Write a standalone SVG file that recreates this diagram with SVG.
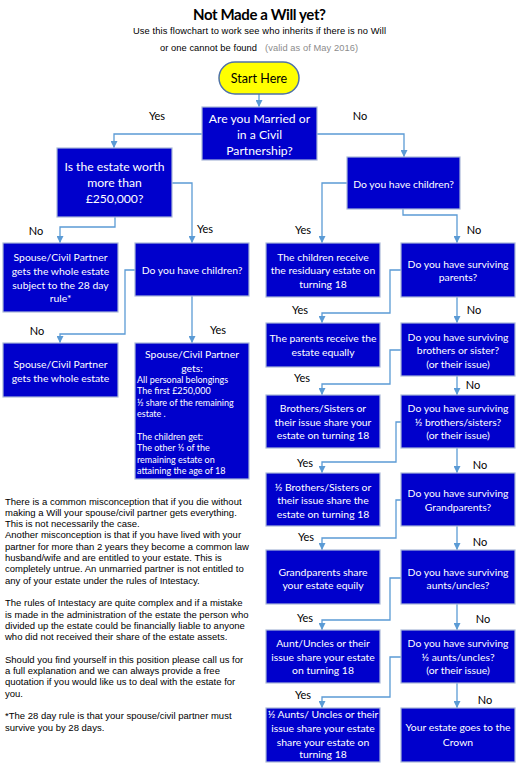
<svg xmlns="http://www.w3.org/2000/svg" width="520" height="768" viewBox="0 0 520 768">
<defs>
<style>
.bx{fill:#0000cc;stroke:#aab8d8;stroke-width:1.2}
.t{font-family:Lato,"Liberation Sans",sans-serif;fill:#fff;font-size:10.4px;text-anchor:middle}
.tb{font-size:12.2px}
.ts{font-family:Lato,"Liberation Sans",sans-serif;fill:#fff;font-size:9px}
.c{fill:none;stroke:#5b9bd5;stroke-width:1.3;marker-end:url(#ah)}
.lb{font-family:Lato,"Liberation Sans",sans-serif;font-size:11px;fill:#000;text-anchor:middle}
.body{font-family:"Liberation Sans",Arial,sans-serif;font-size:9.5px;fill:#000}
</style>
<marker id="ah" viewBox="0 0 10 10" refX="10" refY="5" markerWidth="7" markerHeight="7" orient="auto" markerUnits="userSpaceOnUse">
<path d="M0,0 L10,5 L0,10 z" fill="#5b9bd5"/>
</marker>
</defs>
<rect width="520" height="768" fill="#fff"/>
<g id="title">
<text x="259.5" y="20" font-family="Lato,'Liberation Sans',sans-serif" font-weight="bold" font-size="15" text-anchor="middle" textLength="133" fill="#000">Not Made a Will yet?</text>
<text x="259.5" y="33.5" class="body" text-anchor="middle" textLength="253" style="font-size:9.3px">Use this flowchart to work see who inherits if there is no Will</text>
<text x="160" y="50.5" class="body" textLength="97" style="font-size:9.3px">or one cannot be found</text>
<text x="265" y="50.5" class="body" textLength="93" style="font-size:9.3px;fill:#8c8c8c">(valid as of May 2016)</text>
</g>
<g id="connectors">
<path class="c" d="M259,94 V107"/>
<path class="c" d="M202,134 H114 V148"/>
<path class="c" d="M317,134 H404 V157"/>
<path class="c" d="M115,217 V227 H60 V243"/>
<path class="c" d="M172,183 H192 V243"/>
<path class="c" d="M135,270 H125 V334 H60 V343"/>
<path class="c" d="M192,296 V343"/>
<path class="c" d="M347,183 H322 V243"/>
<path class="c" d="M403,209 V215 H457 V243"/>
<path class="c" d="M401,270 H390 V313 H322 V323"/>
<path class="c" d="M457,297 V323"/>
<path class="c" d="M401,350 H390 V384 H322 V395"/>
<path class="c" d="M457,376 V395"/>
<path class="c" d="M401,422 H396 V462 H322 V473"/>
<path class="c" d="M457,448 V473"/>
<path class="c" d="M401,500 H396 V538 H322 V550"/>
<path class="c" d="M457,526 V550"/>
<path class="c" d="M401,578 H390 V620 H322 V630"/>
<path class="c" d="M457,604 V630"/>
<path class="c" d="M401,657 H390 V697 H322 V708"/>
<path class="c" d="M457,683 V708"/>
<text class="lb" x="157" y="120">Yes</text>
<text class="lb" x="360" y="120">No</text>
<text class="lb" x="36" y="235">No</text>
<text class="lb" x="205" y="233">Yes</text>
<text class="lb" x="37" y="335">No</text>
<text class="lb" x="218" y="334">Yes</text>
<text class="lb" x="303" y="234">Yes</text>
<text class="lb" x="474" y="234">No</text>
<text class="lb" x="300" y="314">Yes</text>
<text class="lb" x="474" y="314">No</text>
<text class="lb" x="302" y="382">Yes</text>
<text class="lb" x="473" y="389">No</text>
<text class="lb" x="305" y="467">Yes</text>
<text class="lb" x="480" y="469">No</text>
<text class="lb" x="306" y="541">Yes</text>
<text class="lb" x="480" y="546">No</text>
<text class="lb" x="305" y="622">Yes</text>
<text class="lb" x="483" y="623">No</text>
<text class="lb" x="303" y="699">Yes</text>
<text class="lb" x="485" y="704">No</text>
</g>
<g id="start">
<rect x="219" y="62" width="80" height="32" rx="16" fill="#ffff00" stroke="#4f72a8" stroke-width="1.5"/>
<text x="259" y="82.5" class="t" style="fill:#000;font-size:12.5px">Start Here</text>
</g>
<g id="q-married">
<rect class="bx" x="202" y="107" width="115" height="53"/>
<text class="t tb" x="259.5" y="122.5">Are you Married or</text>
<text class="t tb" x="259.5" y="139">in a Civil</text>
<text class="t tb" x="259.5" y="155">Partnership?</text>
</g>
<g id="q-estate">
<rect class="bx" x="57" y="148" width="115" height="69"/>
<text class="t tb" x="114.5" y="171">Is the estate worth</text>
<text class="t tb" x="114.5" y="187">more than</text>
<text class="t tb" x="114.5" y="203">£250,000?</text>
</g>
<g id="a-28day">
<rect class="bx" x="3" y="243" width="115" height="69"/>
<text class="t" x="60.5" y="260.5">Spouse/Civil Partner</text>
<text class="t" x="60.5" y="274.5">gets the whole estate</text>
<text class="t" x="60.5" y="288.5">subject to the 28 day</text>
<text class="t" x="60.5" y="301.5">rule*</text>
</g>
<g id="q-children-l">
<rect class="bx" x="135" y="243" width="114" height="53"/>
<text class="t" x="192" y="273.5">Do you have children?</text>
</g>
<g id="a-whole">
<rect class="bx" x="3" y="343" width="115" height="54"/>
<text class="t" x="60.5" y="367.5">Spouse/Civil Partner</text>
<text class="t" x="60.5" y="381.5">gets the whole estate</text>
</g>
<g id="a-split">
<rect class="bx" x="135" y="343" width="114" height="136"/>
<text class="t" x="192" y="357.5">Spouse/Civil Partner</text>
<text class="t" x="192" y="371.5">gets:</text>
<text class="ts" x="137" y="382.5">All personal belongings</text>
<text class="ts" x="137" y="394">The first £250,000</text>
<text class="ts" x="137" y="405.5">½ share of the remaining</text>
<text class="ts" x="137" y="417">estate .</text>
<text class="ts" x="137" y="439.5">The children get:</text>
<text class="ts" x="137" y="451">The other ½ of the</text>
<text class="ts" x="137" y="462.5">remaining estate on</text>
<text class="ts" x="137" y="474">attaining the age of 18</text>
</g>
<g id="q-children-r">
<rect class="bx" x="347" y="157" width="113" height="52"/>
<text class="t" x="403.5" y="187.5">Do you have children?</text>
</g>
<g id="a-children">
<rect class="bx" x="266" y="243" width="114" height="54"/>
<text class="t" x="323" y="260.5">The children receive</text>
<text class="t" x="323" y="273.5">the residuary estate on</text>
<text class="t" x="323" y="287.5">turning 18</text>
</g>
<g id="q-parents">
<rect class="bx" x="401" y="243" width="114" height="54"/>
<text class="t" x="458" y="267.5">Do you have surviving</text>
<text class="t" x="458" y="280.5">parents?</text>
</g>
<g id="a-parents">
<rect class="bx" x="266" y="323" width="114" height="44"/>
<text class="t" x="323" y="341.5">The parents receive the</text>
<text class="t" x="323" y="355.5">estate equally</text>
</g>
<g id="q-siblings">
<rect class="bx" x="401" y="323" width="114" height="53"/>
<text class="t" x="458" y="340.5">Do you have surviving</text>
<text class="t" x="458" y="353.5">brothers or sister?</text>
<text class="t" x="458" y="367.5">(or their issue)</text>
</g>
<g id="a-siblings">
<rect class="bx" x="266" y="395" width="114" height="53"/>
<text class="t" x="323" y="411.5">Brothers/Sisters or</text>
<text class="t" x="323" y="425.5">their issue share your</text>
<text class="t" x="323" y="438.5">estate on turning 18</text>
</g>
<g id="q-half-siblings">
<rect class="bx" x="401" y="395" width="114" height="53"/>
<text class="t" x="458" y="411.5">Do you have surviving</text>
<text class="t" x="458" y="425.5">½ brothers/sisters?</text>
<text class="t" x="458" y="438.5">(or their issue)</text>
</g>
<g id="a-half-siblings">
<rect class="bx" x="266" y="473" width="114" height="53"/>
<text class="t" x="323" y="490.5">½ Brothers/Sisters or</text>
<text class="t" x="323" y="503.5">their issue share the</text>
<text class="t" x="323" y="517.5">estate on turning 18</text>
</g>
<g id="q-grandparents">
<rect class="bx" x="401" y="473" width="114" height="53"/>
<text class="t" x="458" y="496.5">Do you have surviving</text>
<text class="t" x="458" y="510.5">Grandparents?</text>
</g>
<g id="a-grandparents">
<rect class="bx" x="266" y="550" width="114" height="54"/>
<text class="t" x="323" y="575.5">Grandparents share</text>
<text class="t" x="323" y="588.5">your estate equily</text>
</g>
<g id="q-aunts">
<rect class="bx" x="401" y="550" width="114" height="54"/>
<text class="t" x="458" y="575.5">Do you have surviving</text>
<text class="t" x="458" y="588.5">aunts/uncles?</text>
</g>
<g id="a-aunts">
<rect class="bx" x="266" y="630" width="114" height="53"/>
<text class="t" x="323" y="646.5">Aunt/Uncles or their</text>
<text class="t" x="323" y="660.5">issue share your estate</text>
<text class="t" x="323" y="673.5">on turning 18</text>
</g>
<g id="q-half-aunts">
<rect class="bx" x="401" y="630" width="114" height="53"/>
<text class="t" x="458" y="646.5">Do you have surviving</text>
<text class="t" x="458" y="660.5">½ aunts/uncles?</text>
<text class="t" x="458" y="673.5">(or their issue)</text>
</g>
<g id="a-half-aunts">
<rect class="bx" x="266" y="708" width="114" height="54"/>
<text class="t" x="323" y="718">½ Aunts/ Uncles or their</text>
<text class="t" x="323" y="731.5">issue share your estate</text>
<text class="t" x="323" y="745.5">share your estate on</text>
<text class="t" x="323" y="758">turning 18</text>
</g>
<g id="a-crown">
<rect class="bx" x="401" y="708" width="114" height="54"/>
<text class="t" x="458" y="730.5">Your estate goes to the</text>
<text class="t" x="458" y="745.5">Crown</text>
</g>
<g id="notes" class="body">
<text x="5" y="504.5">There is a common misconception that if you die without</text>
<text x="5" y="515.8">making a Will your spouse/civil partner gets everything.</text>
<text x="5" y="527.1">This is not necessarily the case.</text>
<text x="5" y="538.4">Another misconception is that if you have lived with your</text>
<text x="5" y="549.7">partner for more than 2 years they become a common law</text>
<text x="5" y="561">husband/wife and are entitled to your estate.  This is</text>
<text x="5" y="572.3">completely untrue.  An unmarried partner is not entitled to</text>
<text x="5" y="583.6">any of your estate under the rules of Intestacy.</text>
<text x="5" y="606.2">The rules of Intestacy are quite complex and if a mistake</text>
<text x="5" y="617.5">is made in the administration of the estate the person who</text>
<text x="5" y="628.8">divided up the estate could be financially liable to anyone</text>
<text x="5" y="640.1">who did not received their share of the estate assets.</text>
<text x="5" y="662.7">Should you find yourself in this position please call us for</text>
<text x="5" y="674">a full explanation and we can always provide a free</text>
<text x="5" y="685.3">quotation if you would like us to deal with the estate for</text>
<text x="5" y="696.6">you.</text>
<text x="5" y="719.2">*The 28 day rule is that your spouse/civil partner must</text>
<text x="5" y="730.5">survive you by 28 days.</text>
</g>
</svg>
